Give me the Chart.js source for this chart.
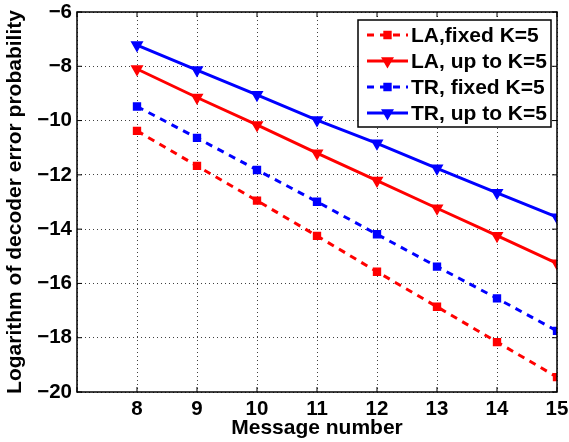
<!DOCTYPE html>
<html>
<head>
<meta charset="utf-8">
<script src="https://cdn.jsdelivr.net/npm/chart.js@4.4.0/dist/chart.umd.min.js"></script>
<style>
  html, body { margin: 0; padding: 0; background: #fff; }
  #wrap { width: 569px; height: 442px; }
</style>
</head>
<body>
<div id="wrap"><canvas id="myChart" width="569" height="442"></canvas></div>
<script>
// message numbers on the x axis
var msgNums = [8, 9, 10, 11, 12, 13, 14, 15];
// log10 of decoder error probability per scheme
var laFixed = [-10.38, -11.67, -12.95, -14.25, -15.57, -16.86, -18.16, -19.45];
var laUpTo  = [-8.10, -9.15, -10.16, -11.20, -12.21, -13.23, -14.24, -15.26];
var trFixed = [-9.48, -10.64, -11.82, -12.99, -14.19, -15.38, -16.55, -17.75];
var trUpTo  = [-7.22, -8.14, -9.05, -9.98, -10.84, -11.76, -12.66, -13.56];
var seriesLabels = ['LA,fixed K=5', 'LA, up to K=5', 'TR, fixed K=5', 'TR, up to K=5'];

var RED = '#ff0000';
var BLUE = '#0000ff';
var FONT = 'Liberation Sans, Arial, sans-serif';

function pts(vals) {
  return vals.map(function (v, i) { return { x: msgNums[i], y: v }; });
}

function squareSet(label, vals, col) {
  return {
    label: label, data: pts(vals),
    borderColor: col, backgroundColor: col,
    borderWidth: 3, borderDash: [7, 6],
    pointStyle: 'rect', pointRadius: 4.5, pointBorderWidth: 2,
    pointBackgroundColor: col, pointBorderColor: col
  };
}
function triSet(label, vals, col) {
  return {
    label: label, data: pts(vals),
    borderColor: col, backgroundColor: col,
    borderWidth: 3,
    pointStyle: 'triangle', pointRotation: 180, pointRadius: 6, pointBorderWidth: 1.5,
    pointBackgroundColor: col, pointBorderColor: col
  };
}

// box around plot area with inward ticks, matlab style
var frame = {
  id: 'frame',
  afterDatasetsDraw: function (chart) {
    var a = chart.chartArea, ctx = chart.ctx;
    var xs = chart.scales.x, ys = chart.scales.y;
    ctx.save();
    ctx.strokeStyle = '#000';
    ctx.lineWidth = 1.5;
    ctx.strokeRect(a.left, a.top, a.right - a.left, a.bottom - a.top);
    ctx.lineWidth = 1;
    ctx.beginPath();
    xs.ticks.forEach(function (t) {
      var px = xs.getPixelForValue(t.value);
      ctx.moveTo(px, a.bottom); ctx.lineTo(px, a.bottom - 5);
      ctx.moveTo(px, a.top); ctx.lineTo(px, a.top + 5);
    });
    ys.ticks.forEach(function (t) {
      var py = ys.getPixelForValue(t.value);
      ctx.moveTo(a.left, py); ctx.lineTo(a.left + 5, py);
      ctx.moveTo(a.right, py); ctx.lineTo(a.right - 5, py);
    });
    ctx.stroke();
    ctx.restore();
  }
};

// legend box in the upper right corner
var boxLegend = {
  id: 'boxLegend',
  afterDraw: function (chart) {
    var ctx = chart.ctx;
    var bx = 358, by = 20, bw = 193, bh = 107, row = 26;
    ctx.save();
    ctx.fillStyle = '#fff';
    ctx.fillRect(bx, by, bw, bh);
    ctx.strokeStyle = '#000';
    ctx.lineWidth = 1.5;
    ctx.strokeRect(bx, by, bw, bh);
    chart.data.datasets.forEach(function (ds, i) {
      var cy = by + 15 + i * row;
      ctx.strokeStyle = ds.borderColor;
      ctx.lineWidth = 3;
      ctx.setLineDash(ds.borderDash || []);
      ctx.beginPath();
      ctx.moveTo(bx + 9, cy);
      ctx.lineTo(bx + 50, cy);
      ctx.stroke();
      ctx.setLineDash([]);
      ctx.fillStyle = ds.pointBackgroundColor;
      ctx.strokeStyle = ds.pointBorderColor;
      ctx.lineWidth = ds.pointBorderWidth;
      Chart.helpers.drawPoint(ctx, {
        pointStyle: ds.pointStyle, radius: ds.pointRadius,
        rotation: ds.pointRotation || 0, borderWidth: ds.pointBorderWidth
      }, bx + 29.5, cy);
      ctx.fillStyle = '#000';
      ctx.font = 'bold 21px ' + FONT;
      ctx.textBaseline = 'middle';
      ctx.fillText(ds.label, bx + 53, cy + 1);
    });
    ctx.restore();
  }
};

const data = {
  datasets: [
    squareSet(seriesLabels[0], laFixed, RED),
    triSet(seriesLabels[1], laUpTo, RED),
    squareSet(seriesLabels[2], trFixed, BLUE),
    triSet(seriesLabels[3], trUpTo, BLUE)
  ]
};

const config = {
  type: 'line',
  data: data,
  options: {
    responsive: false,
    animation: false,
    layout: { padding: { top: 12, right: 12, left: 0, bottom: 0 } },
    plugins: { legend: { display: false }, tooltip: { enabled: false } },
    scales: {
      x: {
        type: 'linear', min: 7, max: 15,
        afterFit: function (s) { s.height = 50; s.paddingLeft = 0; s.paddingRight = 0; },
        ticks: {
          stepSize: 1, padding: 5, color: '#000',
          font: { family: FONT, size: 20.5, weight: 'bold' },
          callback: function (v) { return v === 7 ? '' : v; }
        },
        grid: { color: 'rgba(0,0,0,0.75)', drawTicks: false },
        border: { display: false, dash: [1, 3] },
        title: {
          display: true, text: 'Message number', color: '#000',
          font: { family: FONT, size: 21, weight: 'bold' },
          padding: { top: 0, bottom: 1 }
        }
      },
      y: {
        min: -20, max: -6,
        afterFit: function (s) { s.width = 77; s.paddingTop = 0; s.paddingBottom = 0; },
        ticks: {
          stepSize: 2, padding: 5, color: '#000',
          font: { family: FONT, size: 20.5, weight: 'bold' },
          callback: function (v) { return String(v).replace('-', '\u2212'); }
        },
        grid: { color: 'rgba(0,0,0,0.75)', drawTicks: false },
        border: { display: false, dash: [1, 3] },
        title: {
          display: true, text: 'Logarithm of decoder error probability', color: '#000',
          font: { family: FONT, size: 21, weight: 'bold' },
          padding: { top: 3, bottom: 0 }
        }
      }
    }
  },
  plugins: [frame, boxLegend]
};

const myChart = new Chart(document.getElementById('myChart'), config);
</script>
</body>
</html>
